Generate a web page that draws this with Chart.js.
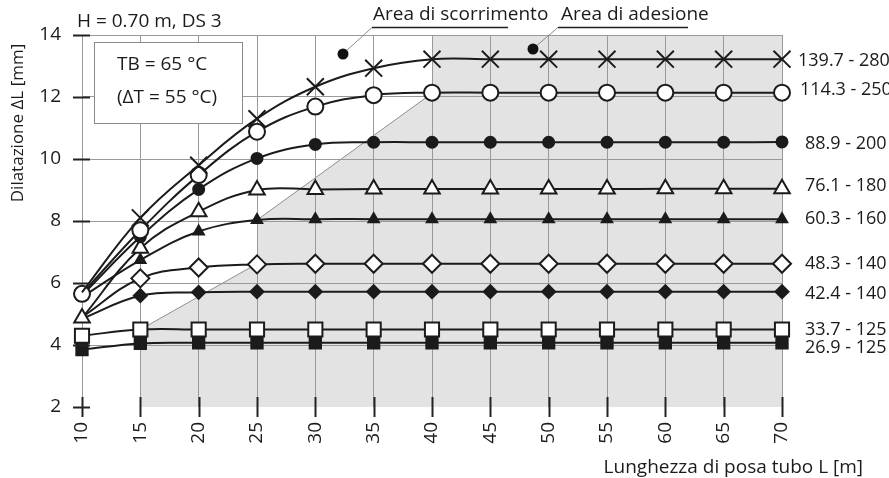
<!DOCTYPE html>
<html>
<head>
<meta charset="utf-8">
<script src="https://cdn.jsdelivr.net/npm/chart.js@4/dist/chart.umd.min.js"></script>
<style>
  html, body { margin: 0; padding: 0; background: #fff; }
  #wrap { width: 889px; height: 478px; position: relative; }
</style>
</head>
<body>
<div id="wrap"><canvas id="chart"></canvas></div>
<script>
// Pipe laying length L [m]
const lengths = [10, 15, 20, 25, 30, 35, 40, 45, 50, 55, 60, 65, 70];

// Expansion ΔL [mm] for each pipe size (service pipe Ø - casing Ø)
const dl_139_7 = [5.70, 8.10, 9.80, 11.30, 12.33, 12.93, 13.22, 13.22, 13.22, 13.22, 13.22, 13.22, 13.22];
const dl_114_3 = [5.65, 7.70, 9.48, 10.88, 11.69, 12.06, 12.14, 12.14, 12.14, 12.14, 12.14, 12.14, 12.14];
const dl_88_9  = [5.60, 7.49, 9.02, 10.02, 10.47, 10.54, 10.54, 10.54, 10.54, 10.54, 10.54, 10.54, 10.55];
const dl_76_1  = [4.87, 7.12, 8.30, 9.00, 9.02, 9.03, 9.03, 9.03, 9.03, 9.03, 9.04, 9.04, 9.04];
const dl_60_3  = [5.55, 6.74, 7.66, 8.03, 8.06, 8.06, 8.06, 8.06, 8.06, 8.06, 8.06, 8.06, 8.06];
const dl_48_3  = [4.90, 6.15, 6.50, 6.60, 6.62, 6.62, 6.62, 6.62, 6.62, 6.62, 6.62, 6.62, 6.62];
const dl_42_4  = [4.85, 5.59, 5.70, 5.72, 5.72, 5.72, 5.72, 5.72, 5.72, 5.72, 5.72, 5.72, 5.72];
const dl_33_7  = [4.30, 4.50, 4.50, 4.50, 4.50, 4.50, 4.50, 4.50, 4.50, 4.50, 4.50, 4.50, 4.50];
const dl_26_9  = [3.85, 4.05, 4.07, 4.07, 4.07, 4.07, 4.07, 4.07, 4.07, 4.07, 4.07, 4.07, 4.07];

const seriesNames = ['139.7 - 280', '114.3 - 250', '88.9 - 200', '76.1 - 180', '60.3 - 160',
                     '48.3 - 140', '42.4 - 140', '33.7 - 125', '26.9 - 125'];

// Axis ticks
const xTickValues = [10, 15, 20, 25, 30, 35, 40, 45, 50, 55, 60, 65, 70];
const yTickValues = [2, 4, 6, 8, 10, 12, 14];

// Adhesion zone outline (L, ΔL) and its slanted border segments
const adhesionZone = [[15, 2], [15, 4.5], [25, 6.62], [25, 8.03], [40, 12.12], [40, 14], [70, 14], [70, 2]];
const zoneBorders = [[[15, 4.5], [25, 6.62]], [[25, 8.03], [40, 12.12]]];

// Texts
const topNote = 'H = 0.70 m, DS 3';
const boxLines = ['TB = 65 °C', '(ΔT = 55 °C)'];
const slidingLabel = 'Area di scorrimento';
const adhesionLabel = 'Area di adesione';
const yTitle = 'Dilatazione ΔL [mm]';
const xTitle = 'Lunghezza di posa tubo L [m]';

const FONT = '"Open Sans", "Noto Sans", sans-serif';
const FS = 19;
const INK = '#1b1b1b';
const GRID = '#999999';

// Marker look of each series; "first" = marker shown at the shortest length
const markers = [
  { style: 'crossRot', r: 12,  fill: INK,    first: false },
  { style: 'circle',   r: 8,   fill: '#fff', first: true },
  { style: 'circle',   r: 5.5, fill: INK,    first: false },
  { style: 'triangle', r: 9,   fill: '#fff', first: true },
  { style: 'triangle', r: 6,   fill: INK,    first: false },
  { style: 'rectRot',  r: 9,   fill: '#fff', first: false },
  { style: 'rectRot',  r: 6.5, fill: INK,    first: false },
  { style: 'rect',     r: 10,  fill: '#fff', first: true },
  { style: 'rect',     r: 8,   fill: INK,    first: true }
];
// vertical nudge (px) and gap after the last point for the end labels
const endLabelDy  = [0, -4, 1, -4, -2, -1, 1, -1, 4];
const endLabelGap = [16, 18, 23, 23, 23, 23, 23, 23, 23];

const seriesValues = [dl_139_7, dl_114_3, dl_88_9, dl_76_1, dl_60_3, dl_48_3, dl_42_4, dl_33_7, dl_26_9];

const datasets = seriesValues.map((vals, i) => ({
  label: seriesNames[i],
  data: lengths.map((L, k) => ({ x: L, y: vals[k] })),
  borderColor: INK,
  borderWidth: 2,
  tension: 0.4,
  clip: false,
  pointStyle: markers[i].style,
  pointRadius: c => (c.dataIndex === 0 && !markers[i].first ? 0 : markers[i].r),
  pointHoverRadius: markers[i].r,
  pointBackgroundColor: markers[i].fill,
  pointBorderColor: INK,
  pointBorderWidth: 2,
  order: i
}));

const decor = {
  id: 'decor',
  beforeDraw(chart) {
    const { ctx } = chart;
    const xs = chart.scales.x, ys = chart.scales.y;
    ctx.save();
    ctx.beginPath();
    adhesionZone.forEach(([L, v], i) => {
      const px = xs.getPixelForValue(L), py = ys.getPixelForValue(v);
      if (i === 0) ctx.moveTo(px, py); else ctx.lineTo(px, py);
    });
    ctx.closePath();
    ctx.fillStyle = '#e3e3e3';
    ctx.fill();
    ctx.strokeStyle = '#8e8e8e';
    ctx.lineWidth = 1;
    zoneBorders.forEach(([a, b]) => {
      ctx.beginPath();
      ctx.moveTo(xs.getPixelForValue(a[0]), ys.getPixelForValue(a[1]));
      ctx.lineTo(xs.getPixelForValue(b[0]), ys.getPixelForValue(b[1]));
      ctx.stroke();
    });
    ctx.restore();
  },
  beforeDatasetsDraw(chart) {
    const { ctx } = chart;
    ctx.save();
    // condition box
    ctx.fillStyle = '#fff';
    ctx.fillRect(94, 42, 148, 81);
    ctx.strokeStyle = '#8a8a8a';
    ctx.lineWidth = 1;
    ctx.strokeRect(94.5, 42.5, 148, 81);
    ctx.fillStyle = INK;
    ctx.font = FS + 'px ' + FONT;
    ctx.textAlign = 'left';
    ctx.textBaseline = 'alphabetic';
    ctx.fillText(boxLines[0], 117, 70);
    ctx.fillText(boxLines[1], 117, 103);
    ctx.restore();
  },
  afterDraw(chart) {
    const { ctx } = chart;
    const xs = chart.scales.x, ys = chart.scales.y;
    const yBottom = ys.getPixelForValue(ys.min);
    ctx.save();

    // crossing tick marks
    ctx.strokeStyle = '#222';
    ctx.lineWidth = 2;
    const xAxisPx = xs.getPixelForValue(xs.min);
    yTickValues.forEach(v => {
      const py = Math.round(ys.getPixelForValue(v)) + 0.5;
      ctx.beginPath(); ctx.moveTo(xAxisPx - 9, py); ctx.lineTo(xAxisPx + 8, py); ctx.stroke();
    });
    xTickValues.forEach(L => {
      const px = Math.round(xs.getPixelForValue(L)) + 0.5;
      ctx.beginPath(); ctx.moveTo(px, yBottom - 10); ctx.lineTo(px, yBottom + 10); ctx.stroke();
    });

    ctx.fillStyle = INK;
    ctx.font = FS + 'px ' + FONT;
    ctx.textBaseline = 'alphabetic';

    // heading
    ctx.textAlign = 'left';
    ctx.fillText(topNote, 77, 27);

    // zone callouts
    ctx.fillText(slidingLabel, 373, 20);
    ctx.fillText(adhesionLabel, 561, 20);
    ctx.strokeStyle = '#222';
    ctx.lineWidth = 1.3;
    ctx.beginPath(); ctx.moveTo(372, 27.5); ctx.lineTo(508, 27.5); ctx.stroke();
    ctx.beginPath(); ctx.moveTo(558, 27.5); ctx.lineTo(688, 27.5); ctx.stroke();
    ctx.strokeStyle = '#8e8e8e';
    ctx.lineWidth = 1;
    ctx.beginPath(); ctx.moveTo(372, 27.5); ctx.lineTo(345, 52); ctx.stroke();
    ctx.beginPath(); ctx.moveTo(558, 27.5); ctx.lineTo(535, 47); ctx.stroke();
    ctx.fillStyle = '#111';
    ctx.beginPath(); ctx.arc(343, 54, 5.5, 0, Math.PI * 2); ctx.fill();
    ctx.beginPath(); ctx.arc(533, 49, 5.5, 0, Math.PI * 2); ctx.fill();

    // end labels
    ctx.fillStyle = INK;
    ctx.textAlign = 'left';
    ctx.font = '18px ' + FONT;
    seriesValues.forEach((vals, i) => {
      const py = ys.getPixelForValue(vals[vals.length - 1]) + endLabelDy[i];
      ctx.fillText(seriesNames[i], xs.right + endLabelGap[i], py + 6.5);
    });

    // axis titles
    ctx.font = FS + 'px ' + FONT;
    ctx.textAlign = 'right';
    ctx.fillText(xTitle, 863, 473);
    ctx.font = '17px ' + FONT;
    ctx.translate(23, 123);
    ctx.rotate(-Math.PI / 2);
    ctx.textAlign = 'center';
    ctx.fillText(yTitle, 0, 0);
    ctx.restore();
  }
};

Chart.defaults.font.family = FONT;
Chart.defaults.color = INK;

new Chart(document.getElementById('chart'), {
  type: 'line',
  data: { datasets },
  plugins: [decor],
  options: {
    responsive: true,
    maintainAspectRatio: false,
    devicePixelRatio: 1,
    animation: false,
    layout: { padding: { top: 35, right: 107, left: 0, bottom: 0 } },
    plugins: { legend: { display: false }, tooltip: { enabled: false } },
    events: [],
    scales: {
      x: {
        type: 'linear',
        min: 10, max: 70,
        afterBuildTicks: s => { s.ticks = xTickValues.map(v => ({ value: v })); },
        afterFit: s => { s.height = 71; },
        ticks: { minRotation: 90, maxRotation: 90, padding: 15, font: { size: FS }, color: INK },
        grid: { color: GRID, lineWidth: 1, drawTicks: false },
        border: { display: false }
      },
      y: {
        min: 2, max: 14,
        afterBuildTicks: s => { s.ticks = yTickValues.map(v => ({ value: v })); },
        afterFit: s => { s.width = 82; },
        ticks: { padding: 21, font: { size: FS }, color: INK },
        grid: { color: c => (c.tick && c.tick.value === 2 ? 'rgba(0,0,0,0)' : GRID), lineWidth: 1, drawTicks: false },
        border: { display: false }
      }
    }
  }
});
</script>
</body>
</html>
